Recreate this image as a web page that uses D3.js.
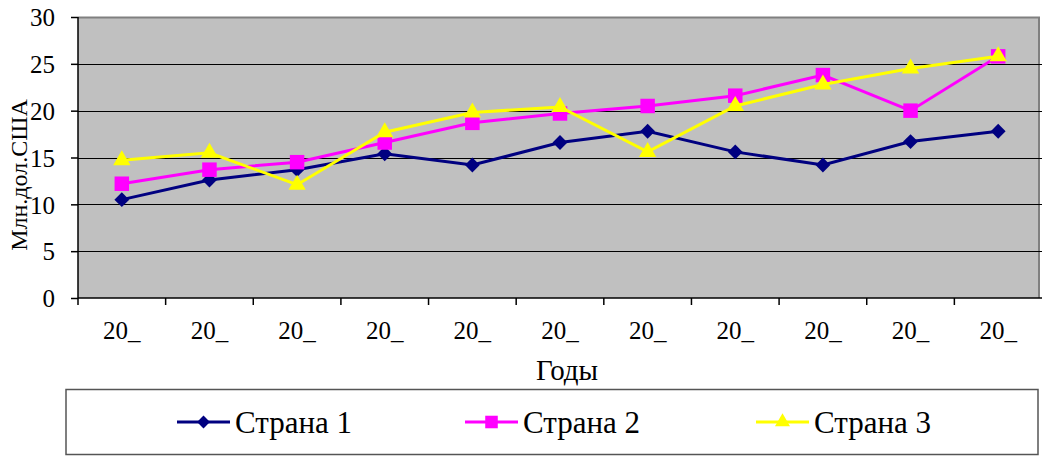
<!DOCTYPE html>
<html>
<head>
<meta charset="utf-8">
<script src="https://d3js.org/d3.v7.min.js"></script>
<style>
body { margin: 0; background: #fff; }
text { font-family: "Liberation Serif", "Times New Roman", serif; fill: #000; }
</style>
</head>
<body>
<svg width="1043" height="456"></svg>
<script>
// data
var years = ["20_","20_","20_","20_","20_","20_","20_","20_","20_","20_","20_"];
var country1 = [10.5, 12.6, 13.7, 15.4, 14.2, 16.6, 17.8, 15.6, 14.2, 16.7, 17.8];
var country2 = [12.2, 13.7, 14.5, 16.6, 18.7, 19.7, 20.5, 21.6, 23.8, 20.0, 25.8];
var country3 = [14.7, 15.5, 12.1, 17.7, 19.8, 20.4, 15.6, 20.5, 22.8, 24.5, 25.8];
var yTicks = [0, 5, 10, 15, 20, 25, 30];
var names = ["Страна 1", "Страна 2", "Страна 3"];

var svg = d3.select("svg");
var pLeft = 78, pRight = 1042, pTop = 17, pBottom = 298;

var x = d3.scaleBand().domain(d3.range(years.length)).range([pLeft, pRight]);
var y = d3.scaleLinear().domain([0, 30]).range([pBottom, pTop]);

// plot area
svg.append("rect")
  .attr("x", pLeft).attr("y", pTop)
  .attr("width", 1038 - pLeft).attr("height", pBottom - pTop)
  .attr("fill", "#c0c0c0");
svg.append("line")
  .attr("x1", pLeft).attr("x2", 1040).attr("y1", pTop + 0.5).attr("y2", pTop + 0.5)
  .attr("stroke", "#808080").attr("stroke-width", 2);
svg.append("line")
  .attr("x1", 1039).attr("x2", 1039).attr("y1", pTop).attr("y2", pBottom)
  .attr("stroke", "#808080").attr("stroke-width", 2);

// gridlines
svg.append("g").selectAll("line")
  .data(yTicks.filter(function(d) { return d > 0 && d < 30; }))
  .enter().append("line")
  .attr("x1", pLeft).attr("x2", pRight)
  .attr("y1", function(d) { return Math.round(y(d)) + 0.5; })
  .attr("y2", function(d) { return Math.round(y(d)) + 0.5; })
  .attr("stroke", "#000").attr("stroke-width", 1);

// y axis
var yAxis = svg.append("g")
  .attr("transform", "translate(" + pLeft + ",0)")
  .call(d3.axisLeft(y).tickValues(yTicks).tickSize(7).tickPadding(16));
yAxis.selectAll("text").style("font-size", "25px").attr("dy", "0.35em");
yAxis.selectAll("line, path").attr("stroke", "#000").attr("stroke-width", 1.5);
yAxis.select(".domain").attr("d", "M0," + pTop + "V" + pBottom);

// x axis
var xAxis = svg.append("g")
  .attr("transform", "translate(0," + pBottom + ")");
xAxis.append("line")
  .attr("x1", pLeft).attr("x2", pRight).attr("y1", 0).attr("y2", 0)
  .attr("stroke", "#000").attr("stroke-width", 1.5);
xAxis.selectAll(".tk")
  .data(d3.range(years.length))
  .enter().append("line")
  .attr("x1", function(d) { return x(d); })
  .attr("x2", function(d) { return x(d); })
  .attr("y1", 0).attr("y2", 7)
  .attr("stroke", "#000").attr("stroke-width", 1.5);
xAxis.selectAll(".lb")
  .data(years)
  .enter().append("text")
  .attr("x", function(d, i) { return x(i) + x.bandwidth() / 2; })
  .attr("y", 41)
  .attr("text-anchor", "middle")
  .style("font-size", "25px")
  .text(function(d) { return d; });

// axis titles
svg.append("text")
  .attr("x", 567).attr("y", 380)
  .attr("text-anchor", "middle")
  .style("font-size", "29px")
  .text("Годы");
svg.append("text")
  .attr("transform", "translate(27,175) rotate(-90)")
  .attr("text-anchor", "middle")
  .style("font-size", "24px")
  .text("Млн.дол.США");

// series
var series = [
  { values: country1, color: "#000080", shape: d3.symbolSquare, size: 110, rot: 45 },
  { values: country2, color: "#ff00ff", shape: d3.symbolSquare, size: 210, rot: 0 },
  { values: country3, color: "#ffff00", shape: d3.symbolTriangle, size: 130, rot: 0 }
];
var line = d3.line()
  .x(function(d, i) { return x(i) + x.bandwidth() / 2; })
  .y(function(d) { return y(d); });

series.forEach(function(s) {
  var g = svg.append("g");
  g.append("path")
    .attr("d", line(s.values))
    .attr("fill", "none")
    .attr("stroke", s.color)
    .attr("stroke-width", 3);
  g.selectAll("path.m")
    .data(s.values)
    .enter().append("path")
    .attr("class", "m")
    .attr("transform", function(d, i) {
      return "translate(" + (x(i) + x.bandwidth() / 2) + "," + y(d) + ") rotate(" + s.rot + ")";
    })
    .attr("d", d3.symbol().type(s.shape).size(s.size))
    .attr("fill", s.color);
});

// legend
svg.append("rect")
  .attr("x", 66).attr("y", 389.5)
  .attr("width", 972).attr("height", 65)
  .attr("fill", "#fff")
  .attr("stroke", "#555").attr("stroke-width", 1.5);
var legX = [177, 465, 756];
series.forEach(function(s, i) {
  var g = svg.append("g").attr("transform", "translate(" + legX[i] + ",422)");
  g.append("line")
    .attr("x1", 0).attr("x2", 53).attr("y1", 0).attr("y2", 0)
    .attr("stroke", s.color).attr("stroke-width", 3);
  g.append("path")
    .attr("transform", "translate(26.5,0) rotate(" + s.rot + ")")
    .attr("d", d3.symbol().type(s.shape).size(s.size * 0.75))
    .attr("fill", s.color);
  g.append("text")
    .attr("x", 58).attr("y", 11)
    .style("font-size", "31px")
    .text(names[i]);
});
</script>
</body>
</html>
